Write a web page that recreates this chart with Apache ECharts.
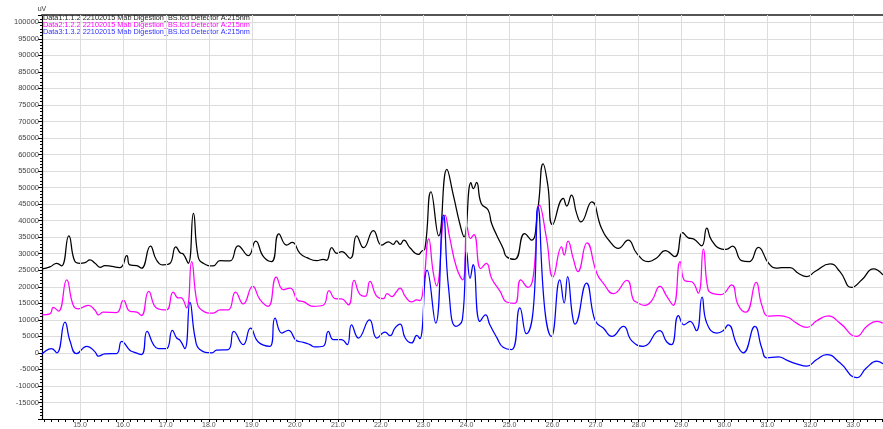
<!DOCTYPE html>
<html>
<head>
<meta charset="utf-8">
<title>Chromatogram overlay</title>
<script src="https://cdn.jsdelivr.net/npm/echarts@6/dist/echarts.min.js"></script>
<style>
  html, body { margin: 0; padding: 0; background: #ffffff; }
  #chart { width: 883px; height: 429px; }
</style>
</head>
<body>
<div id="chart"></div>
<script>
// Trace names shown in the legend
const traceNames = [
  'Data1:1.1.2 22102015 Mab Digestion_BS.lcd Detector A:215nm',
  'Data2:1.2.2 22102015 Mab Digestion_BS.lcd Detector A:215nm',
  'Data3:1.3.2 22102015 Mab Digestion_BS.lcd Detector A:215nm'
];
const traceColors = ['#000000', '#ff00ff', '#0000ff'];
const legendColors = ['#222222', '#ff00ff', '#3333ff'];

// Retention-time labels on the x axis (min)
const timeTicks = [15, 16, 17, 18, 19, 20, 21, 22, 23, 24, 25, 26, 27, 28, 29, 30, 31, 32, 33];

// Data1 (retention time in min, signal in uV)
const data1Time = [14.12, 14.30, 14.46, 14.57, 14.74, 14.88, 15.00, 15.12, 15.23, 15.35, 15.47, 15.58, 15.93, 16.09, 16.16, 16.32, 16.43, 16.64, 16.78, 16.94, 17.09, 17.23, 17.33, 17.41, 17.52, 17.64, 17.75, 17.87, 18.10, 18.26, 18.49, 18.68, 18.92, 19.09, 19.27, 19.46, 19.63, 19.81, 19.94, 20.12, 20.28, 20.51, 20.66, 20.74, 20.86, 20.98, 21.09, 21.29, 21.44, 21.60, 21.83, 22.02, 22.18, 22.29, 22.37, 22.45, 22.54, 22.68, 22.88, 22.95, 23.03, 23.17, 23.35, 23.54, 23.69, 23.85, 23.94, 24.10, 24.16, 24.23, 24.34, 24.50, 24.58, 24.70, 24.85, 24.93, 25.12, 25.35, 25.51, 25.66, 25.78, 25.89, 26.00, 26.25, 26.33, 26.44, 26.56, 26.66, 26.91, 27.14, 27.34, 27.53, 27.76, 27.96, 28.23, 28.43, 28.62, 28.85, 29.03, 29.16, 29.28, 29.47, 29.59, 29.70, 29.94, 30.04, 30.19, 30.40, 30.58, 30.79, 31.03, 31.22, 31.34, 31.53, 31.72, 31.92, 32.11, 32.46, 32.69, 32.96, 33.20, 33.47, 33.69];
const data1Signal = [25400, 26000, 27100, 26300, 35400, 27700, 27100, 27300, 28100, 27100, 25900, 26400, 25800, 29400, 26600, 26400, 25600, 32300, 28100, 26600, 27000, 32100, 30300, 29800, 27100, 42200, 29100, 27100, 26300, 27900, 27800, 32400, 29400, 33800, 29100, 27600, 36000, 32600, 33400, 30100, 28800, 27900, 28300, 28000, 31800, 30100, 30600, 28600, 35400, 31800, 37000, 32600, 33600, 32800, 33900, 32800, 34100, 31800, 29800, 30700, 31500, 48700, 35400, 55500, 47700, 38600, 35100, 51500, 49700, 51600, 45200, 43200, 39200, 35600, 31600, 29100, 28300, 36100, 34100, 43700, 57200, 50700, 38800, 46700, 44400, 47700, 42200, 39600, 45700, 37700, 33600, 31600, 34100, 30100, 27600, 28800, 30900, 29100, 36400, 34800, 34500, 32400, 37700, 34100, 31400, 31300, 32300, 27900, 27600, 31900, 27100, 25600, 25800, 25800, 24100, 23100, 24600, 26900, 24600, 19800, 22100, 25400, 23600];

// Data2
const data2Time = [14.12, 14.30, 14.38, 14.50, 14.69, 14.84, 14.96, 15.19, 15.35, 15.43, 15.54, 15.85, 16.01, 16.16, 16.32, 16.43, 16.60, 16.78, 17.01, 17.17, 17.29, 17.35, 17.48, 17.60, 17.72, 17.83, 18.10, 18.26, 18.45, 18.62, 18.80, 19.02, 19.19, 19.38, 19.57, 19.73, 19.89, 20.08, 20.20, 20.43, 20.66, 20.80, 20.94, 21.09, 21.25, 21.38, 21.52, 21.64, 21.75, 21.91, 22.06, 22.15, 22.26, 22.36, 22.45, 22.57, 22.72, 22.84, 22.91, 22.99, 23.12, 23.22, 23.30, 23.50, 23.61, 23.77, 23.91, 24.01, 24.09, 24.17, 24.33, 24.46, 24.58, 24.78, 24.93, 25.12, 25.26, 25.43, 25.55, 25.70, 25.86, 26.01, 26.21, 26.27, 26.36, 26.48, 26.59, 26.80, 27.03, 27.18, 27.42, 27.73, 27.88, 27.96, 28.15, 28.31, 28.50, 28.66, 28.81, 28.97, 29.08, 29.24, 29.39, 29.51, 29.62, 29.74, 29.92, 30.17, 30.32, 30.50, 30.74, 30.87, 31.03, 31.26, 31.49, 31.68, 31.92, 32.15, 32.42, 32.69, 33.08, 33.31, 33.55, 33.69];
const data2Signal = [11500, 11800, 13800, 12600, 22100, 14500, 13300, 14400, 12900, 11500, 12300, 12200, 15900, 12600, 12300, 11300, 18600, 13600, 13000, 18400, 16600, 16700, 13600, 27600, 15600, 13000, 12000, 13000, 13000, 18400, 14800, 20100, 16100, 14100, 22900, 19100, 19600, 15800, 15500, 14100, 14400, 18800, 16400, 16300, 14500, 21900, 17600, 17100, 21600, 17100, 16400, 17900, 17000, 18400, 19600, 17100, 15400, 16000, 15800, 19600, 34500, 24600, 20300, 41700, 34600, 25600, 22100, 38200, 34600, 35800, 25500, 27100, 22600, 18600, 15400, 15000, 22100, 19800, 23000, 44700, 34600, 23000, 32100, 29600, 33800, 28600, 24600, 33300, 24100, 21100, 17900, 21900, 16100, 15300, 14400, 15800, 20100, 17100, 14400, 27600, 21800, 21500, 18100, 31400, 19100, 17900, 17600, 20600, 14500, 12300, 21300, 14500, 11100, 11300, 10700, 9000, 7700, 9700, 11200, 9000, 5000, 8000, 9500, 9000];

// Data3
const data3Time = [14.12, 14.14, 14.34, 14.46, 14.65, 14.77, 14.92, 15.16, 15.35, 15.43, 15.58, 15.85, 15.97, 16.16, 16.24, 16.43, 16.56, 16.71, 16.82, 17.01, 17.15, 17.25, 17.33, 17.44, 17.56, 17.68, 17.79, 18.07, 18.18, 18.45, 18.58, 18.80, 18.97, 19.15, 19.42, 19.54, 19.70, 19.85, 20.04, 20.20, 20.35, 20.47, 20.66, 20.78, 20.90, 21.09, 21.22, 21.32, 21.48, 21.74, 21.91, 22.10, 22.22, 22.33, 22.45, 22.57, 22.72, 22.84, 22.91, 23.08, 23.28, 23.46, 23.58, 23.75, 23.90, 24.00, 24.08, 24.15, 24.31, 24.44, 24.54, 24.70, 24.85, 25.05, 25.24, 25.39, 25.55, 25.66, 25.82, 25.97, 26.17, 26.27, 26.35, 26.46, 26.52, 26.79, 26.95, 27.03, 27.18, 27.38, 27.65, 27.84, 28.11, 28.49, 28.66, 28.77, 28.93, 29.06, 29.20, 29.35, 29.48, 29.59, 29.82, 29.97, 30.09, 30.29, 30.44, 30.71, 30.87, 30.99, 31.26, 31.45, 31.68, 31.92, 32.15, 32.38, 32.69, 33.08, 33.31, 33.55, 33.69];
const data3Signal = [-500, 0, 1300, 0, 9300, 3500, -200, 2000, 300, -1000, -300, -200, 3500, 800, 300, -500, 6500, 2500, 1300, 1300, 6800, 4500, 3800, 1300, 15300, 4500, 1000, 0, 800, 1000, 6500, 2500, 7500, 3300, 2000, 10500, 6000, 6800, 3700, 3200, 2500, 1800, 2000, 6500, 4000, 4000, 2500, 8500, 4500, 10000, 4500, 6300, 5200, 7500, 8700, 4500, 3000, 5300, 4300, 25000, 9000, 41700, 19600, 8000, 10000, 30600, 22600, 26700, 9500, 11500, 8500, 4700, 1700, 1000, 13600, 5800, 13000, 44200, 13000, 5000, 22100, 15100, 23100, 11500, 8700, 21100, 11500, 9000, 7500, 5000, 8000, 3700, 2000, 6700, 3300, 2500, 11300, 8500, 9500, 6700, 16900, 9000, 6000, 6700, 8500, 2500, 0, 8000, 1500, -1500, -1200, -2200, -3300, -4000, -2000, -500, -3000, -7500, -4500, -2500, -3300];

const traceTimes = [data1Time, data2Time, data3Time];
const traceSignals = [data1Signal, data2Signal, data3Signal];

// Visible window of the time axis
const timeMin = 14.1155;
const timeMax = 33.692;

// Minor tick positions: every 10 s between the labelled minutes
const minorTimeTicks = [];
for (let k = Math.ceil(timeMin * 6); k <= Math.floor(timeMax * 6); k++) {
  if (k % 6 !== 0) minorTimeTicks.push(k / 6);
}

const fontFamily = '"Liberation Sans", Arial, sans-serif';
const gridColor = '#dcdcdc';

const chart = echarts.init(document.getElementById('chart'), null, { renderer: 'canvas' });

const traceSeries = traceNames.map((name, i) => ({
  name: name,
  type: 'line',
  xAxisIndex: 0,
  yAxisIndex: 0,
  z: 3,
  data: traceTimes[i].map((t, j) => [t, traceSignals[i][j]]),
  showSymbol: false,
  symbol: 'none',
  smooth: 0.5,
  color: traceColors[i],
  lineStyle: { color: traceColors[i], width: 1.25 },
  emphasis: { disabled: true },
  animation: false
}));

// Vertical grid lines at each labelled minute
const minuteGridSeries = {
  name: 'minute-grid',
  type: 'line',
  xAxisIndex: 0,
  yAxisIndex: 0,
  z: 1,
  data: [],
  silent: true,
  animation: false,
  markLine: {
    silent: true,
    symbol: ['none', 'none'],
    animation: false,
    label: { show: false },
    lineStyle: { color: gridColor, type: 'solid', width: 1 },
    emphasis: { disabled: true },
    data: timeTicks.map(t => ({ xAxis: t }))
  }
};

chart.setOption({
  animation: false,
  backgroundColor: '#ffffff',
  textStyle: { fontFamily: fontFamily },
  grid: { left: 42, right: 0, top: 15, bottom: 7.7, containLabel: false },
  legend: {
    orient: 'vertical',
    left: 38,
    top: 14,
    itemWidth: 0,
    itemHeight: 7,
    itemGap: 0,
    padding: 0,
    selectedMode: false,
    textStyle: { fontSize: 7.3, fontFamily: fontFamily, padding: 0 },
    data: traceNames.map((n, i) => ({ name: n, icon: 'rect', itemStyle: { opacity: 0 }, textStyle: { color: legendColors[i] } }))
  },
  xAxis: [
    {
      type: 'value',
      min: timeMin,
      max: timeMax,
      position: 'bottom',
      axisLine: { show: true, onZero: false, lineStyle: { color: '#000', width: 1 } },
      axisTick: { show: true, customValues: timeTicks, length: 3, lineStyle: { color: '#000' } },
      axisLabel: {
        show: true,
        customValues: timeTicks,
        formatter: v => v.toFixed(1),
        fontSize: 7,
        color: '#555',
        margin: 3
      },
      splitLine: { show: false }
    },
    {
      type: 'value',
      min: timeMin,
      max: timeMax,
      position: 'bottom',
      axisLine: { show: false, onZero: false },
      axisTick: { show: true, customValues: minorTimeTicks, length: 3, lineStyle: { color: '#000' } },
      axisLabel: { show: false },
      splitLine: { show: false }
    },
    {
      type: 'value',
      min: timeMin,
      max: timeMax,
      position: 'top',
      axisLine: { show: true, onZero: false, lineStyle: { color: '#555', width: 2 } },
      axisTick: { show: false },
      axisLabel: { show: false },
      splitLine: { show: false }
    }
  ],
  yAxis: {
    type: 'value',
    min: -20000,
    max: 102200,
    interval: 5000,
    name: 'uV',
    nameLocation: 'end',
    nameGap: 2,
    nameTextStyle: { fontSize: 7, color: '#333', align: 'center', padding: 0 },
    axisLine: { show: true, onZero: false, lineStyle: { color: '#000', width: 1.2 } },
    axisTick: { show: true, length: 4, lineStyle: { color: '#000' } },
    minorTick: { show: true, splitNumber: 5, length: 2, lineStyle: { color: '#000' } },
    axisLabel: {
      showMinLabel: false,
      showMaxLabel: false,
      formatter: v => String(v),
      fontSize: 7.5,
      color: '#444',
      margin: 3
    },
    splitLine: { show: true, lineStyle: { color: gridColor, width: 1 } }
  },
  series: [minuteGridSeries].concat(traceSeries)
});
</script>
</body>
</html>
